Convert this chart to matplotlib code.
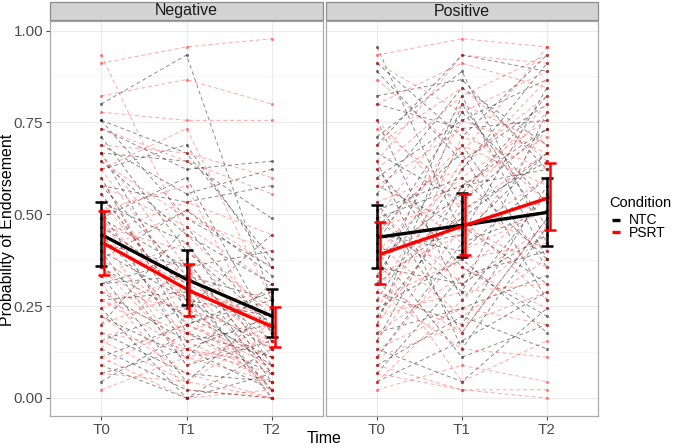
import numpy as np
import matplotlib.pyplot as plt
from matplotlib.lines import Line2D
from matplotlib.patches import Rectangle

plt.rcParams['font.family'] = ['Liberation Sans', 'DejaVu Sans']

times = ["T0", "T1", "T2"]
facets = ["Negative", "Positive"]
conditions = ["NTC", "PSRT"]
n_items = 45

# items endorsed (out of 45) per participant at T0, T1, T2
neg_ntc = [
    [36, 42, 12], [34, 22, 16], [34, 30, 17], [33, 28, 29], [32, 18, 9],
    [31, 25, 28], [30, 12, 6], [29, 20, 14], [28, 31, 16], [27, 8, 3],
    [26, 15, 12], [25, 11, 20], [24, 19, 4], [23, 6, 10], [22, 27, 8],
    [21, 14, 0], [20, 9, 13], [19, 16, 2], [18, 4, 7], [17, 23, 15],
    [16, 10, 5], [15, 2, 11], [14, 17, 3], [13, 7, 9], [12, 13, 1],
    [11, 0, 6], [10, 5, 14], [9, 21, 8], [8, 3, 2], [7, 11, 4],
    [6, 1, 0], [5, 9, 12], [4, 0, 3], [3, 6, 1], [2, 8, 5],
    [30, 29, 22], [26, 24, 26], [22, 16, 18], [18, 12, 10], [14, 15, 7],
]
neg_psrt = [
    [41, 43, 44], [42, 20, 10], [37, 39, 36], [35, 34, 34], [33, 29, 25],
    [31, 30, 27], [30, 16, 8], [28, 33, 12], [27, 9, 4], [26, 21, 14],
    [24, 12, 0], [23, 26, 6], [22, 7, 2], [21, 18, 11], [20, 4, 9],
    [19, 14, 3], [18, 23, 16], [17, 10, 1], [16, 5, 7], [15, 19, 5],
    [14, 1, 0], [13, 11, 13], [12, 8, 2], [11, 15, 6], [10, 3, 0],
    [9, 13, 10], [8, 6, 4], [7, 2, 8], [6, 17, 3], [5, 0, 1],
    [4, 9, 5], [3, 2, 0], [1, 5, 2], [29, 22, 18], [25, 11, 7],
    [20, 24, 20], [16, 8, 12], [12, 6, 3], [28, 14, 9], [22, 12, 1],
]
pos_ntc = [
    [43, 20, 30], [41, 32, 42], [40, 29, 36], [37, 39, 28], [34, 12, 25],
    [32, 40, 19], [30, 24, 33], [28, 16, 10], [27, 34, 39], [26, 21, 14],
    [25, 38, 31], [24, 8, 22], [23, 27, 17], [22, 13, 35], [21, 30, 12],
    [20, 18, 27], [19, 35, 24], [18, 5, 9], [17, 25, 37], [16, 14, 20],
    [15, 31, 16], [14, 22, 30], [13, 9, 26], [12, 28, 41], [11, 17, 8],
    [10, 23, 29], [9, 36, 21], [8, 11, 15], [7, 26, 33], [6, 2, 11],
    [5, 19, 23], [4, 10, 6], [3, 15, 18], [2, 7, 13], [36, 33, 34],
    [31, 42, 40], [29, 6, 21], [22, 26, 28], [18, 20, 38], [14, 37, 17],
]
pos_psrt = [
    [42, 44, 43], [41, 35, 40], [39, 30, 43], [36, 41, 38], [33, 25, 36],
    [31, 38, 29], [29, 42, 41], [27, 19, 33], [26, 33, 24], [24, 28, 39],
    [23, 14, 21], [22, 36, 31], [21, 24, 35], [20, 31, 26], [19, 10, 17],
    [18, 27, 34], [17, 22, 12], [16, 34, 30], [15, 20, 27], [14, 8, 22],
    [13, 29, 37], [12, 17, 19], [11, 26, 32], [10, 13, 14], [9, 32, 28],
    [8, 15, 25], [7, 21, 16], [6, 11, 9], [5, 18, 23], [4, 1, 1],
    [3, 1, 0], [2, 12, 20], [1, 4, 2], [34, 23, 30], [28, 37, 42],
    [20, 16, 11], [13, 6, 5], [9, 24, 18], [5, 9, 13], [17, 2, 7],
]

# group means with confidence limits
neg_ntc_mean = [0.445, 0.323, 0.223]
neg_ntc_lo = [0.360, 0.253, 0.165]
neg_ntc_hi = [0.533, 0.404, 0.296]
neg_psrt_mean = [0.420, 0.292, 0.191]
neg_psrt_lo = [0.336, 0.223, 0.138]
neg_psrt_hi = [0.508, 0.366, 0.248]
pos_ntc_mean = [0.437, 0.470, 0.505]
pos_ntc_lo = [0.353, 0.385, 0.415]
pos_ntc_hi = [0.524, 0.557, 0.600]
pos_psrt_mean = [0.391, 0.470, 0.546]
pos_psrt_lo = [0.310, 0.390, 0.456]
pos_psrt_hi = [0.478, 0.555, 0.640]

indiv = {"Negative": [neg_ntc, neg_psrt], "Positive": [pos_ntc, pos_psrt]}
summ = {
    "Negative": [(neg_ntc_mean, neg_ntc_lo, neg_ntc_hi), (neg_psrt_mean, neg_psrt_lo, neg_psrt_hi)],
    "Positive": [(pos_ntc_mean, pos_ntc_lo, pos_ntc_hi), (pos_psrt_mean, pos_psrt_lo, pos_psrt_hi)],
}
colors = ["black", "#FF0000"]
line_alpha = [0.45, 0.35]
pt_alpha = [0.5, 0.45]
dodge = [0.0, 0.035]

W, H = 673, 448
fig = plt.figure(figsize=(W / 100, H / 100), dpi=100)

panels = [(50, 323), (326, 598)]
top, bottom = 21, 416
x = np.arange(len(times))

for k, facet in enumerate(facets):
    x0, x1 = panels[k]
    ax = fig.add_axes([x0 / W, (H - bottom) / H, (x1 - x0) / W, (bottom - top) / H])
    ax.set_xlim(-0.6, 2.6)
    ax.set_ylim(-0.049, 1.026)
    ax.set_yticks([0, 0.25, 0.5, 0.75, 1.0])
    ax.set_yticks(np.arange(0.125, 1.0, 0.25), minor=True)
    ax.set_xticks(x)
    ax.set_xticklabels(times)
    ax.grid(True, which="major", color="#EBEBEB", lw=0.8)
    ax.grid(True, which="minor", axis="y", color="#F4F4F4", lw=0.5)
    ax.set_axisbelow(True)
    for s in ax.spines.values():
        s.set_color("#ABABAB")
        s.set_linewidth(0.9)
    ax.tick_params(axis="both", which="major", length=3, color="#4D4D4D",
                   labelsize=11, labelcolor="#4D4D4D", pad=2)
    ax.tick_params(axis="y", which="minor", length=0)
    if k == 0:
        ax.set_yticklabels(["0.00", "0.25", "0.50", "0.75", "1.00"])
    else:
        ax.tick_params(axis="y", left=False, labelleft=False)

    # individual trajectories
    for c in range(2):
        for row in indiv[facet][c]:
            y = np.array(row) / n_items
            ax.plot(x, y, color=colors[c], alpha=line_alpha[c], lw=0.7,
                    dashes=(4, 3), zorder=2)
            ax.plot(x, y, ls="none", marker="o", ms=2.3, mec="none",
                    color=colors[c], alpha=pt_alpha[c], zorder=3)

    # group means
    for c in range(2):
        m, lo, hi = summ[facet][c]
        m = np.array(m)
        xd = x + dodge[c]
        ax.plot(xd, m, color=colors[c], lw=2.4, zorder=5, solid_capstyle="butt")
        ax.errorbar(xd, m, yerr=[m - np.array(lo), np.array(hi) - m], fmt="none",
                    ecolor=colors[c], elinewidth=1.8, capsize=4, capthick=1.8, zorder=6)

    # facet strip
    strip = Rectangle((x0 / W, (H - 20) / H), (x1 - x0) / W, 18 / H,
                      transform=fig.transFigure, facecolor="#D3D3D3",
                      edgecolor="#8C8C8C", lw=0.9)
    fig.add_artist(strip)
    fig.text((x0 + x1) / 2 / W, (H - 11) / H, facet, ha="center", va="center",
             fontsize=11.5, color="#1A1A1A")

fig.text(324 / W, (H - 438) / H, "Time", ha="center", va="center", fontsize=11.5)
fig.text(8 / W, (top + bottom) / 2 / H, "Probability of Endorsement", rotation=90,
         ha="center", va="center", fontsize=11.5)

# legend
fig.text(609 / W, (H - 203) / H, "Condition", ha="left", va="center", fontsize=10.5)
for c, lab in enumerate(conditions):
    yy = (H - (220 + 12.5 * c)) / H
    fig.add_artist(Line2D([612 / W, 620 / W], [yy, yy], transform=fig.transFigure,
                          color=colors[c], lw=2.4, solid_capstyle="butt"))
    fig.text(629 / W, yy, lab, ha="left", va="center", fontsize=10)

fig.savefig("out.png", dpi=100)
